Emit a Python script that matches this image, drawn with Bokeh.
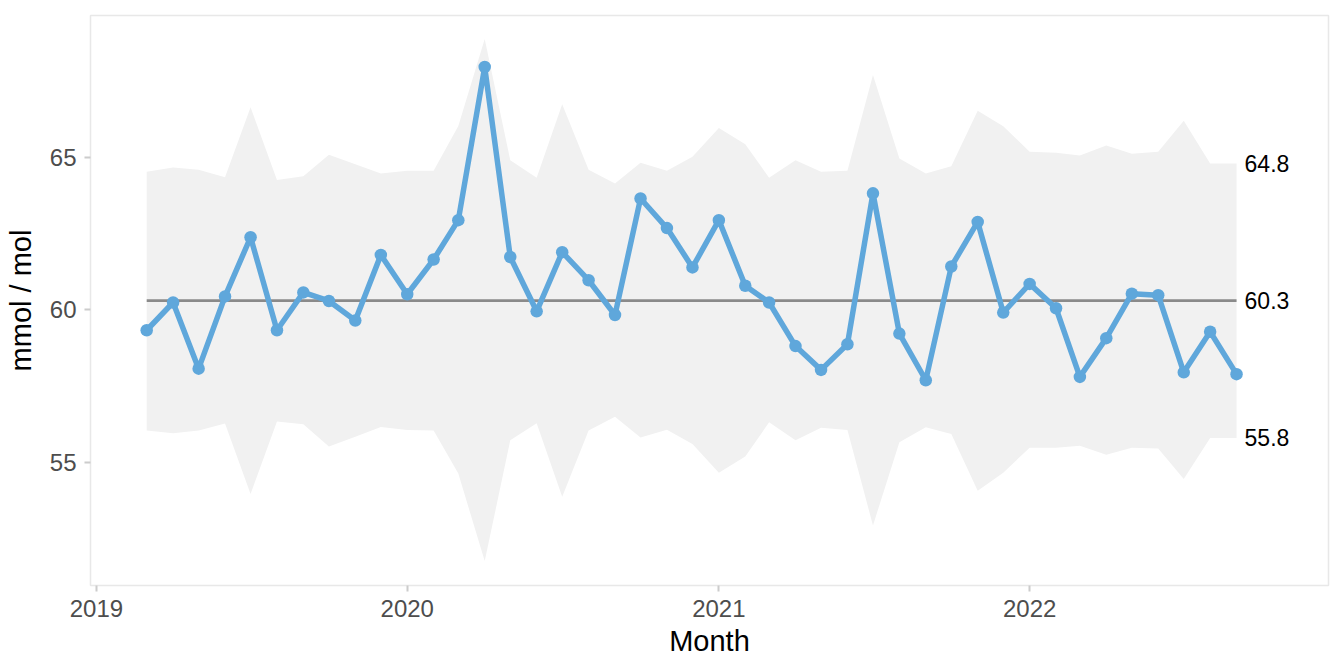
from datetime import datetime

import pandas as pd
from bokeh.core.properties import value
from bokeh.embed import file_html
from bokeh.models import ColumnDataSource, DatetimeTickFormatter, FixedTicker, Range1d
from bokeh.plotting import figure
from bokeh.resources import INLINE

# monthly values, Mar 2019 .. Sep 2022
months = pd.date_range("2019-03-01", "2022-09-01", freq="MS")
values = [59.33, 60.24, 58.07, 60.44, 62.38, 59.33, 60.57, 60.29, 59.65, 61.80,
          60.51, 61.65, 62.94, 67.96, 61.73, 59.95, 61.89, 60.97, 59.83, 63.65,
          62.68, 61.39, 62.94, 60.79, 60.24, 58.81, 58.03, 58.87, 63.82, 59.22,
          57.69, 61.42, 62.88, 59.91, 60.85, 60.05, 57.80, 59.07, 60.53, 60.48,
          57.95, 59.28, 57.89]
upper = [64.53, 64.67, 64.59, 64.35, 66.64, 64.26, 64.38, 65.08, 64.77, 64.47,
         64.56, 64.56, 66.03, 68.88, 64.90, 64.33, 66.74, 64.59, 64.14, 64.82,
         64.56, 65.02, 65.96, 65.43, 64.33, 64.90, 64.53, 64.56, 67.70, 64.96,
         64.47, 64.71, 66.53, 66.02, 65.18, 65.15, 65.06, 65.39, 65.12, 65.18,
         66.20, 64.80, 64.80]
lower = [56.04, 55.95, 56.04, 56.27, 53.96, 56.34, 56.25, 55.52, 55.84, 56.16,
         56.06, 56.04, 54.63, 51.76, 55.72, 56.28, 53.87, 56.04, 56.49, 55.81,
         56.07, 55.60, 54.66, 55.19, 56.31, 55.72, 56.13, 56.06, 52.93, 55.66,
         56.15, 55.93, 54.07, 54.66, 55.48, 55.48, 55.54, 55.25, 55.48, 55.45,
         54.45, 55.80, 55.80]
centre = 60.3
year_ticks = ["2019-01-01", "2020-01-01", "2021-01-01", "2022-01-01"]

src = ColumnDataSource(dict(month=months, value=values, upper=upper, lower=lower,
                            centre=[centre] * len(values)))

FONT = "Liberation Sans"

p = figure(x_axis_type="datetime", output_backend="svg", toolbar_location=None,
           frame_width=1238, frame_height=570,
           min_border_left=90, min_border_top=15, min_border_right=8, min_border_bottom=79,
           x_range=Range1d(datetime(2018, 12, 25), datetime(2022, 12, 18)),
           y_range=Range1d(50.96, 69.65))

p.varea(x="month", y1="lower", y2="upper", source=src, fill_color="#f1f1f1")
p.line(x="month", y="centre", source=src, line_color="#8a8a8a", line_width=2.7)
p.line(x="month", y="value", source=src, line_color="#5fa7db", line_width=5.5)
p.scatter(x="month", y="value", source=src, size=12.5, fill_color="#5fa7db", line_color=None)

# limit labels to the right of the last month
lab = ColumnDataSource(dict(x=[months[-1]] * 3, y=[upper[-1], centre, lower[-1]],
                            t=["%.1f" % upper[-1], "%.1f" % centre, "%.1f" % lower[-1]]))
p.text(x="x", y="y", text="t", source=lab, x_offset=8, text_baseline="middle",
       text_align="left", text_font=value(FONT), text_font_size="23px", text_color="black")

p.xaxis.ticker = FixedTicker(ticks=[pd.Timestamp(d).value // 10**6 for d in year_ticks])
p.xaxis.formatter = DatetimeTickFormatter(years="%Y", months="%Y", days="%Y",
                                          hours="%Y", minutes="%Y", seconds="%Y")
p.yaxis.ticker = FixedTicker(ticks=[55, 60, 65])

p.grid.visible = False
p.outline_line_color = "#e8e8e8"
p.outline_line_width = 1.5
p.background_fill_color = "white"

for ax in (p.xaxis, p.yaxis):
    ax.axis_line_color = None
    ax.major_tick_line_color = "#cccccc"
    ax.major_tick_line_width = 2
    ax.major_tick_out = 6
    ax.major_tick_in = 0
    ax.minor_tick_line_color = None
    ax.major_label_text_font = FONT
    ax.major_label_text_font_size = "24px"
    ax.major_label_text_color = "#4d4d4d"
    ax.axis_label_text_font = FONT
    ax.axis_label_text_font_size = "29px"
    ax.axis_label_text_font_style = "normal"
    ax.axis_label_text_color = "black"

p.xaxis.axis_label = "Month"
p.yaxis.axis_label = "mmol / mol"
p.xaxis.major_label_standoff = 8
p.yaxis.major_label_standoff = 8
p.xaxis.axis_label_standoff = 5
p.yaxis.axis_label_standoff = 10

open("out.html", "w").write(file_html(p, INLINE))
